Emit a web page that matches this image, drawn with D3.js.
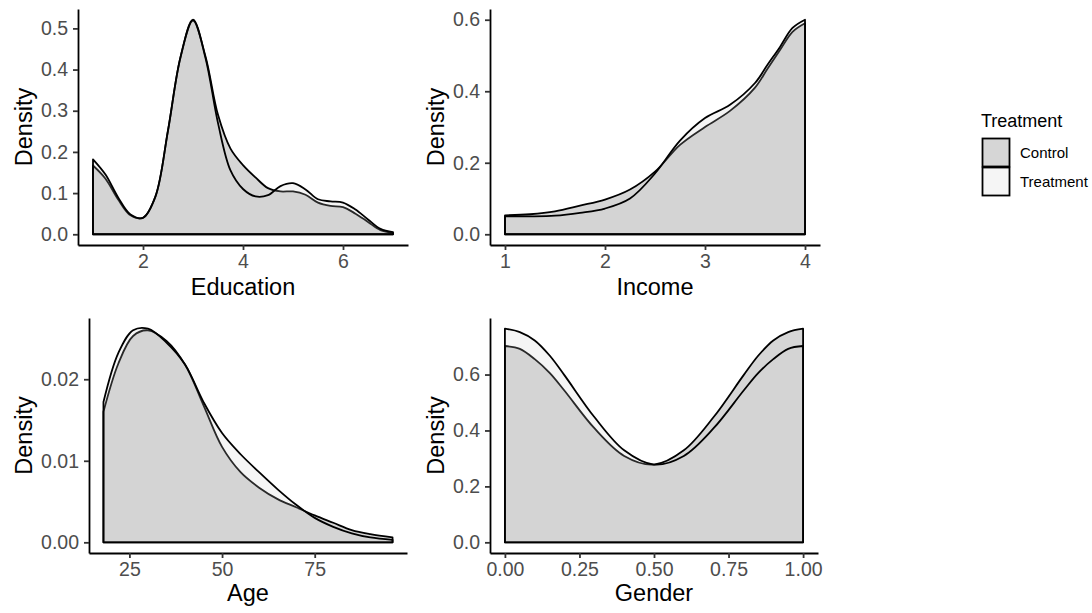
<!DOCTYPE html>
<html>
<head>
<meta charset="utf-8">
<script src="https://cdn.jsdelivr.net/npm/d3@7"></script>
<style>
    body { margin: 0; background: #ffffff; }
    svg { font-family: "Liberation Sans", Arial, sans-serif; }
</style>
</head>
<body>
<svg width="1092" height="613"></svg>
<script>
// Группы (порядок отрисовки: сначала Control, затем Treatment)
const groups = ["Control", "Treatment"];

// Education
const eduX = [1, 1.25, 1.5, 1.75, 2, 2.25, 2.5, 2.75, 3, 3.25, 3.5, 3.75, 4,
              4.25, 4.5, 4.75, 5, 5.25, 5.5, 5.75, 6, 6.25, 6.5, 6.75, 7];
const eduControl = [0.167, 0.135, 0.085, 0.046, 0.040, 0.092, 0.252, 0.430, 0.519, 0.432, 0.290, 0.208, 0.168,
                    0.138, 0.112, 0.104, 0.104, 0.096, 0.077, 0.069, 0.066, 0.050, 0.030, 0.010, 0.003];
const eduTreat = [0.182, 0.145, 0.090, 0.048, 0.040, 0.092, 0.252, 0.430, 0.521, 0.428, 0.270, 0.155, 0.110,
                  0.092, 0.095, 0.117, 0.124, 0.109, 0.085, 0.080, 0.077, 0.060, 0.036, 0.013, 0.005];
const eduTicksX = [2, 4, 6];
const eduTicksY = [0, 0.1, 0.2, 0.3, 0.4, 0.5];

// Income
const incX = [1, 1.25, 1.5, 1.75, 2, 2.25, 2.5, 2.75, 3, 3.25, 3.5, 3.625, 3.75, 3.875, 4];
const incControl = [0.053, 0.056, 0.064, 0.080, 0.097, 0.125, 0.175, 0.250, 0.300, 0.345, 0.410, 0.463, 0.515, 0.566, 0.590];
const incTreat = [0.050, 0.050, 0.052, 0.060, 0.072, 0.100, 0.170, 0.262, 0.325, 0.362, 0.423, 0.474, 0.524, 0.577, 0.600];
const incTicksX = [1, 2, 3, 4];
const incTicksY = [0, 0.2, 0.4, 0.6];

// Age
const ageX = [18, 22, 26, 30, 35, 40, 45, 50, 55, 60, 65, 70, 75, 80, 85, 90, 96];
const ageControl = [0.0160, 0.0219, 0.0253, 0.0260, 0.0247, 0.0218, 0.0168, 0.0117, 0.0086, 0.0067,
                    0.0053, 0.0043, 0.0033, 0.0024, 0.0015, 0.0010, 0.0006];
const ageTreat = [0.0172, 0.0232, 0.0260, 0.0262, 0.0245, 0.0218, 0.0172, 0.0134, 0.0108, 0.0086,
                  0.0065, 0.0046, 0.0030, 0.0019, 0.0011, 0.0006, 0.0003];
const ageTicksX = [25, 50, 75];
const ageTicksY = [0, 0.01, 0.02];

// Gender
const genX = [0, 0.05, 0.1, 0.15, 0.2, 0.3, 0.4, 0.5, 0.6, 0.7, 0.8, 0.85, 0.9, 0.95, 1];
const genControl = [0.702, 0.692, 0.655, 0.606, 0.542, 0.408, 0.309, 0.278, 0.329, 0.448, 0.597, 0.668, 0.722, 0.752, 0.764];
const genTreat = [0.764, 0.752, 0.722, 0.668, 0.597, 0.448, 0.329, 0.278, 0.309, 0.408, 0.542, 0.606, 0.655, 0.692, 0.702];
const genTicksX = [0, 0.25, 0.5, 0.75, 1];
const genTicksY = [0, 0.2, 0.4, 0.6];

// Описание панелей и их размещение
const panels = [
    {label: "Education", x: eduX, control: eduControl, treat: eduTreat, ticksX: eduTicksX, ticksY: eduTicksY,
     fmtX: d3.format("d"), fmtY: d3.format(".1f"), left: 78, right: 408, top: 9, bottom: 245, titleX: 32, titleBase: 295},
    {label: "Income", x: incX, control: incControl, treat: incTreat, ticksX: incTicksX, ticksY: incTicksY,
     fmtX: d3.format("d"), fmtY: d3.format(".1f"), left: 490, right: 820, top: 9, bottom: 245, titleX: 444, titleBase: 295},
    {label: "Age", x: ageX, control: ageControl, treat: ageTreat, ticksX: ageTicksX, ticksY: ageTicksY,
     fmtX: d3.format("d"), fmtY: d3.format(".2f"), left: 89, right: 407, top: 318, bottom: 553, titleX: 32, titleBase: 601},
    {label: "Gender", x: genX, control: genControl, treat: genTreat, ticksX: genTicksX, ticksY: genTicksY,
     fmtX: d3.format(".2f"), fmtY: d3.format(".1f"), left: 490, right: 818, top: 318, bottom: 553, titleX: 444, titleBase: 601}
];

const fills = {Control: "#333333", Treatment: "#cccccc"};
const alpha = 0.2;

let svg = d3.select("svg");
panels.forEach(p => drawPanel(svg, p));
drawLegend(svg);

// Функция отрисовки одной панели
function drawPanel(svg, p) {
    let [x0, x1] = d3.extent(p.x);
    let padX = (x1 - x0) * 0.05;
    let scX = d3.scaleLinear()
        .domain([x0 - padX, x1 + padX])
        .range([p.left, p.right]);

    let maxY = d3.max(p.control.concat(p.treat));
    let scY = d3.scaleLinear()
        .domain([-maxY * 0.05, maxY * 1.05])
        .range([p.bottom, p.top]);

    // Плотности: Control снизу, Treatment сверху
    groups.forEach(g => {
        let values = g === "Control" ? p.control : p.treat;
        let area = d3.area()
            .x((d, i) => scX(p.x[i]))
            .y0(scY(0))
            .y1(d => scY(d))
            .curve(d3.curveCatmullRom.alpha(0.5));
        svg.append("path")
            .datum(values)
            .attr("d", area)
            .attr("fill", fills[g])
            .attr("fill-opacity", alpha)
            .attr("stroke", "black")
            .attr("stroke-width", 1.8)
            .attr("stroke-linejoin", "round");
    });

    // Оси
    let axisX = d3.axisBottom(scX).tickValues(p.ticksX).tickFormat(p.fmtX)
        .tickSize(5).tickSizeOuter(0).tickPadding(4);
    let axisY = d3.axisLeft(scY).tickValues(p.ticksY).tickFormat(p.fmtY)
        .tickSize(5).tickSizeOuter(0).tickPadding(5);

    let gx = svg.append("g")
        .attr("transform", `translate(0, ${p.bottom})`)
        .call(axisX);
    let gy = svg.append("g")
        .attr("transform", `translate(${p.left}, 0)`)
        .call(axisY);

    [gx, gy].forEach(g => {
        g.select(".domain").attr("stroke", "black").attr("stroke-width", 1.8);
        g.selectAll(".tick line").attr("stroke", "#333333").attr("stroke-width", 1.8);
        g.selectAll(".tick text")
            .attr("fill", "#4d4d4d")
            .style("font-size", "19.5px")
            .style("font-family", "'Liberation Sans', Arial, sans-serif");
    });

    // Подписи осей
    svg.append("text")
        .attr("x", (p.left + p.right) / 2)
        .attr("y", p.titleBase)
        .attr("text-anchor", "middle")
        .style("font-size", "23.5px")
        .text(p.label);

    svg.append("text")
        .attr("transform", `translate(${p.titleX}, ${(p.top + p.bottom) / 2}) rotate(-90)`)
        .attr("text-anchor", "middle")
        .style("font-size", "23.5px")
        .text("Density");
}

// Легенда
function drawLegend(svg) {
    let lg = svg.append("g").attr("transform", "translate(980, 0)");
    lg.append("text")
        .attr("x", 1)
        .attr("y", 127)
        .style("font-size", "18px")
        .text("Treatment");

    groups.forEach((g, i) => {
        lg.append("rect")
            .attr("x", 2.5)
            .attr("y", 138.5 + i * 29)
            .attr("width", 27)
            .attr("height", 28)
            .attr("fill", "white");
        lg.append("rect")
            .attr("x", 2.5)
            .attr("y", 138.5 + i * 29)
            .attr("width", 27)
            .attr("height", 28)
            .attr("fill", fills[g])
            .attr("fill-opacity", alpha)
            .attr("stroke", "black")
            .attr("stroke-width", 1.8);
        lg.append("text")
            .attr("x", 40)
            .attr("y", 157.5 + i * 29)
            .style("font-size", "15px")
            .text(g);
    });
}
</script>
</body>
</html>
